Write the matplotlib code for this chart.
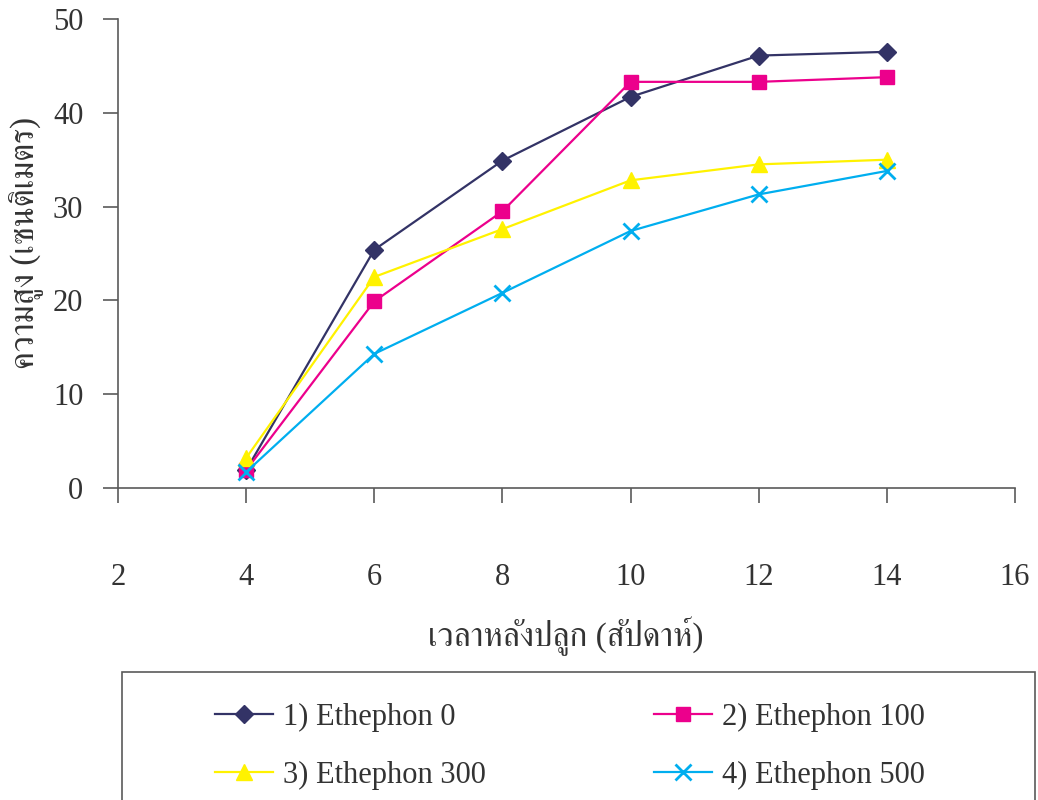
import matplotlib
matplotlib.use("Agg")
import matplotlib.pyplot as plt
from matplotlib import font_manager
from matplotlib.ft2font import FT2Font
from matplotlib.patches import Rectangle

weeks = [4, 6, 8, 10, 12, 14]
ethephon_0 = [1.9, 25.4, 34.9, 41.7, 46.1, 46.5]
ethephon_100 = [1.9, 19.9, 29.5, 43.3, 43.3, 43.8]
ethephon_300 = [3.2, 22.5, 27.6, 32.8, 34.5, 35.0]
ethephon_500 = [1.7, 14.3, 20.8, 27.4, 31.3, 33.8]
series_labels = ["1) Ethephon 0", "2) Ethephon 100", "3) Ethephon 300", "4) Ethephon 500"]
x_ticks = [2, 4, 6, 8, 10, 12, 14, 16]
y_ticks = [0, 10, 20, 30, 40, 50]
x_title = "เวลาหลังปลูก (สัปดาห์)"
y_title = "ความสูง (เซนติเมตร)"


def thai_family():
    """Return the name of an installed font that has Thai glyphs."""
    preferred = []
    others = []
    for entry in font_manager.fontManager.ttflist:
        try:
            cmap = FT2Font(entry.fname).get_charmap()
        except Exception:
            continue
        if 0x0E04 in cmap and 0x0E27 in cmap:
            if "Serif" in entry.name or "Thai" in entry.name:
                preferred.append(entry.name)
            else:
                others.append(entry.name)
    for name in preferred + others:
        return name
    return "DejaVu Sans"


THAI = thai_family()
SERIF = ["Liberation Serif", THAI, "DejaVu Sans"]
plt.rcParams["font.family"] = SERIF

TEXT = "#333333"
LINE = "#5a5a5a"

fig = plt.figure(figsize=(10.38, 8.0), dpi=100)
W, H = 1038, 800
ax = fig.add_axes([118 / W, 1 - 488 / H, (1015 - 118) / W, (488 - 19) / H])

styles = [
    (ethephon_0, "#333366", "D", 9, None),
    (ethephon_100, "#EC008C", "s", 10, None),
    (ethephon_300, "#FFF200", "^", 11, None),
    (ethephon_500, "#00AEEF", "x", 11, 2.0),
]
handles = []
for (vals, color, marker, ms, mew), label in zip(styles, series_labels):
    (h,) = ax.plot(weeks, vals, color=color, lw=1.6, marker=marker,
                   markersize=ms, markeredgewidth=mew if mew else 1.0,
                   markerfacecolor=color, markeredgecolor=color,
                   label=label, clip_on=False)
    handles.append(h)

ax.set_xlim(2, 16)
ax.set_ylim(0, 50)
ax.set_xticks(x_ticks)
ax.set_yticks(y_ticks)
for side in ("top", "right"):
    ax.spines[side].set_visible(False)
for side in ("left", "bottom"):
    ax.spines[side].set_color(LINE)
    ax.spines[side].set_linewidth(1.2)
ax.tick_params(axis="both", direction="out", length=11, width=1.2,
               color=LINE, labelcolor=TEXT, labelsize=22)
ax.tick_params(axis="x", pad=43)
ax.tick_params(axis="y", pad=14)

fig.text(566 / W, 1 - 636 / H, x_title, ha="center", va="center",
         fontsize=24, color=TEXT)
fig.text(26 / W, 1 - 243 / H, y_title, ha="center", va="center",
         rotation=90, fontsize=24, color=TEXT)

# legend frame running past the bottom edge
fig.patches.append(Rectangle((122 / W, -0.05), (1035 - 122) / W,
                             (1 - 672 / H) + 0.05, transform=fig.transFigure,
                             facecolor="white", edgecolor=LINE, lw=1.2))
order = [handles[0], handles[2], handles[1], handles[3]]
fig.legend(order, [h.get_label() for h in order], ncol=2,
           loc="upper left", bbox_to_anchor=(215 / W, 1 - 703 / H),
           frameon=False, fontsize=22, handlelength=1.9, handletextpad=0.33,
           columnspacing=5.5, labelspacing=0.95, labelcolor=TEXT,
           borderaxespad=0, borderpad=0)

fig.savefig("out.png", dpi=100)
